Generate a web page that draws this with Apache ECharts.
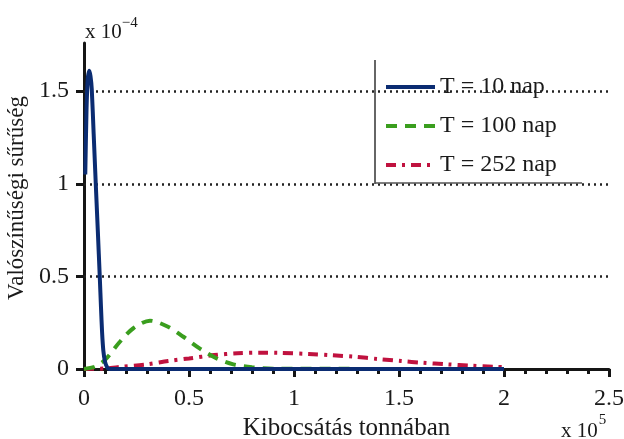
<!DOCTYPE html>
<html>
<head>
<meta charset="utf-8">
<script src="https://cdn.jsdelivr.net/npm/echarts@6/dist/echarts.min.js"></script>
<style>
html,body{margin:0;padding:0;background:#fff;}
#chart{width:624px;height:439px;}
</style>
</head>
<body>
<div id="chart"></div>
<script>
// ---- data (x in units of 1e5 tonnes, y in units of 1e-4) ----
var seriesNames = ['T = 10 nap', 'T = 100 nap', 'T = 252 nap'];

var x10 = [0.006, 0.012, 0.018, 0.025, 0.031, 0.037, 0.046, 0.056, 0.066, 0.075, 0.081, 0.086, 0.092, 0.1, 0.11, 0.12, 2.0];
var y10 = [1.05, 1.40, 1.57, 1.61, 1.58, 1.51, 1.27, 1.00, 0.74, 0.50, 0.33, 0.20, 0.10, 0.04, 0.01, 0, 0];

var x100 = [0, 0.05, 0.1, 0.171, 0.235, 0.314, 0.4, 0.473, 0.552, 0.632, 0.711, 0.8, 0.9, 2.0];
var y100 = [0, 0.012, 0.049, 0.147, 0.22, 0.261, 0.228, 0.174, 0.11, 0.057, 0.025, 0.009, 0.002, 0];

var x252 = [0, 0.1, 0.16, 0.3, 0.4, 0.5, 0.62, 0.73, 0.84, 0.93, 1.07, 1.18, 1.29, 1.4, 1.51, 1.61, 1.73, 1.84, 1.96, 2.0];
var y252 = [0, 0.003, 0.01, 0.025, 0.043, 0.057, 0.075, 0.085, 0.088, 0.087, 0.081, 0.074, 0.066, 0.054, 0.043, 0.034, 0.025, 0.018, 0.012, 0.01];

var yTicks = [0, 0.5, 1, 1.5];
var gridValues = [0.5, 1, 1.5];
var xTitle = 'Kibocsátás tonnában';
var yTitle = 'Valószínűségi sűrűség';

function pairs(xs, ys) { return xs.map(function (x, i) { return [x, ys[i]]; }); }

var FONT = "'Liberation Serif', 'Times New Roman', serif";
var TXT = '#1a1a1a';
var AX = '#151515';

var chart = echarts.init(document.getElementById('chart'));
chart.setOption({
  animation: false,
  backgroundColor: '#fff',
  textStyle: { fontFamily: FONT, color: TXT },
  grid: { left: 84, right: 15, top: 43, bottom: 70, containLabel: false, outerBoundsMode: 'none' },
  xAxis: {
    type: 'value', min: 0, max: 2.5, interval: 0.5,
    name: xTitle, nameLocation: 'middle', nameGap: 34,
    nameTextStyle: { fontFamily: FONT, fontSize: 25, color: TXT },
    axisLine: { show: true, lineStyle: { color: AX, width: 3 } },
    axisTick: { show: true, length: 8, lineStyle: { color: AX, width: 3 } },
    minorTick: { show: true, splitNumber: 5, length: 5, lineStyle: { color: AX, width: 3 } },
    axisLabel: { fontFamily: FONT, fontSize: 24, color: TXT, margin: 18,
      formatter: function (v) { return String(v); } },
    splitLine: { show: false }, minorSplitLine: { show: false }
  },
  yAxis: {
    type: 'value', min: 0, max: 1.76, interval: 0.5,
    name: yTitle, nameLocation: 'middle', nameGap: 44,
    nameTextStyle: { fontFamily: FONT, fontSize: 23, color: TXT, padding: [0, 0, 0, 16] },
    axisLine: { show: true, lineStyle: { color: AX, width: 3 } },
    axisTick: { show: true, length: 8, customValues: yTicks, lineStyle: { color: AX, width: 3 } },
    axisLabel: { fontFamily: FONT, fontSize: 24, color: TXT, margin: 15, customValues: yTicks,
      formatter: function (v) { return String(v); } },
    splitLine: { show: false }
  },
  legend: {
    orient: 'vertical', left: 384, top: 75, padding: 0,
    itemWidth: 49, itemHeight: 14, itemGap: 15,
    itemStyle: { opacity: 0 },
    lineStyle: { width: 'inherit' },
    textStyle: { fontFamily: FONT, fontSize: 24, color: TXT },
    data: seriesNames
  },
  graphic: [
    { type: 'line', shape: { x1: 375, y1: 60, x2: 375, y2: 184 }, style: { stroke: '#333', lineWidth: 1.5 }, z: 10 },
    { type: 'line', shape: { x1: 375, y1: 183, x2: 582, y2: 183 }, style: { stroke: '#555', lineWidth: 1.5 }, z: 10 },
    { type: 'text', left: 85, top: 16, style: { text: 'x 10{s|−4}', fontFamily: FONT, fontSize: 21, fill: TXT,
        rich: { s: { fontFamily: FONT, fontSize: 15, fill: TXT, padding: [0, 0, 17, 0] } } } },
    { type: 'text', left: 561, top: 413, style: { text: 'x 10{s|5}', fontFamily: FONT, fontSize: 21, fill: TXT,
        rich: { s: { fontFamily: FONT, fontSize: 15, fill: TXT, padding: [0, 0, 22, 1] } } } }
  ],
  series: [
    { name: seriesNames[0], type: 'line', data: pairs(x10, y10), showSymbol: false, symbol: 'none',
      smooth: 0.2, z: 5,
      lineStyle: { color: '#0b2c72', width: 4 }, itemStyle: { color: '#0b2c72' },
      markLine: { silent: true, symbol: 'none', label: { show: false }, animation: false,
        lineStyle: { color: '#222', width: 2.5, type: [2, 4] },
        data: gridValues.map(function (v) { return { yAxis: v }; }) } },
    { name: seriesNames[1], type: 'line', data: pairs(x100, y100), showSymbol: false, symbol: 'none',
      smooth: 0.3, z: 4,
      lineStyle: { color: '#3a9e1e', width: 4, type: [11, 8] }, itemStyle: { color: '#3a9e1e' } },
    { name: seriesNames[2], type: 'line', data: pairs(x252, y252), showSymbol: false, symbol: 'none',
      smooth: 0.3, z: 3,
      lineStyle: { color: '#c0123f', width: 4, type: [10, 6, 3, 6] }, itemStyle: { color: '#c0123f' } }
  ]
});
</script>
</body>
</html>
